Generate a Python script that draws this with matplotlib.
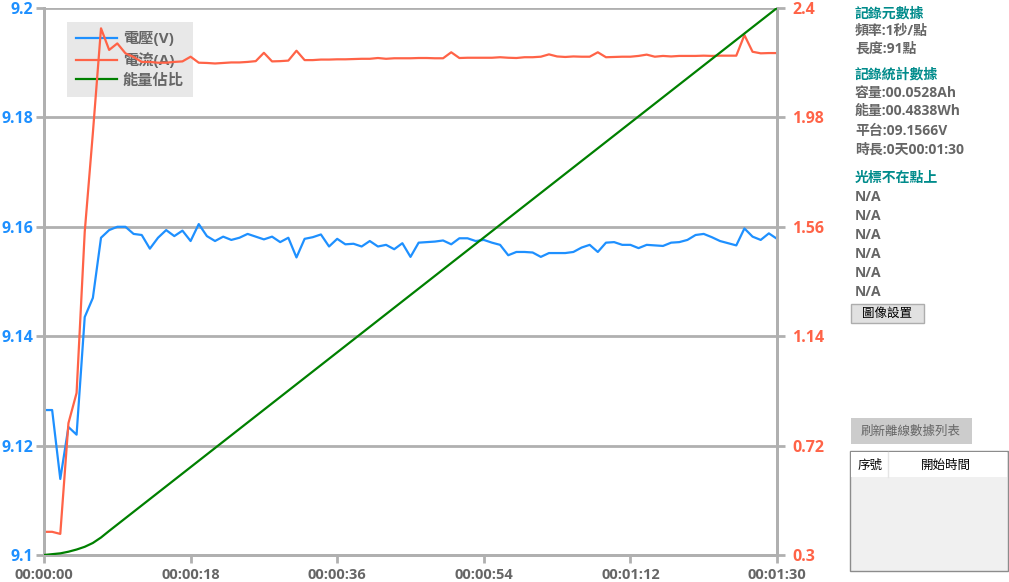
import numpy as np
import matplotlib
matplotlib.use("Agg")
from matplotlib import pyplot as plt
from matplotlib.patches import Rectangle

plt.rcParams["font.family"] = ["Open Sans", "Noto Sans CJK TC", "DejaVu Sans"]

# one sample per second, 91 samples
seconds = list(range(91))
voltage = [9.1265, 9.1265, 9.1139, 9.1234, 9.1220, 9.1435, 9.1470, 9.1580, 9.1594, 9.1600,
           9.1600, 9.1587, 9.1585, 9.1560, 9.1580, 9.1594, 9.1583, 9.1593, 9.1574, 9.1605,
           9.1583, 9.1574, 9.1582, 9.1576, 9.1580, 9.1587, 9.1582, 9.1577, 9.1582, 9.1572,
           9.1580, 9.1544, 9.1578, 9.1581, 9.1586, 9.1564, 9.1578, 9.1568, 9.1569, 9.1564,
           9.1574, 9.1564, 9.1567, 9.1559, 9.1570, 9.1545, 9.1571, 9.1572, 9.1573, 9.1575,
           9.1568, 9.1579, 9.1579, 9.1574, 9.1576, 9.1571, 9.1567, 9.1548, 9.1554, 9.1554,
           9.1553, 9.1545, 9.1552, 9.1552, 9.1552, 9.1554, 9.1562, 9.1567, 9.1554, 9.1571,
           9.1572, 9.1567, 9.1567, 9.1561, 9.1567, 9.1566, 9.1565, 9.1571, 9.1572, 9.1576,
           9.1585, 9.1587, 9.1581, 9.1574, 9.1570, 9.1566, 9.1597, 9.1582, 9.1576, 9.1588,
           9.1578]
current = [0.389, 0.389, 0.381, 0.806, 0.922, 1.540, 1.920, 2.322, 2.239, 2.264,
           2.226, 2.212, 2.193, 2.193, 2.190, 2.190, 2.193, 2.195, 2.213, 2.190,
           2.189, 2.187, 2.189, 2.191, 2.191, 2.193, 2.196, 2.228, 2.195, 2.196,
           2.198, 2.236, 2.200, 2.200, 2.202, 2.202, 2.203, 2.203, 2.204, 2.205,
           2.205, 2.208, 2.205, 2.207, 2.207, 2.207, 2.208, 2.208, 2.207, 2.207,
           2.230, 2.208, 2.209, 2.209, 2.209, 2.209, 2.211, 2.209, 2.208, 2.211,
           2.211, 2.213, 2.222, 2.214, 2.212, 2.214, 2.213, 2.213, 2.230, 2.211,
           2.212, 2.213, 2.213, 2.216, 2.221, 2.213, 2.216, 2.214, 2.216, 2.216,
           2.216, 2.217, 2.216, 2.217, 2.217, 2.217, 2.296, 2.232, 2.226, 2.227,
           2.227]
# energy share (0..1), read at the bends of the green curve
energy_t = [0, 2, 3, 4, 5, 6, 7, 8, 90]
energy_share = [0.0, 0.003, 0.006, 0.010, 0.015, 0.022, 0.032, 0.044, 1.0]

volt_ticks = [9.1, 9.12, 9.14, 9.16, 9.18, 9.2]
volt_labels = ["9.1", "9.12", "9.14", "9.16", "9.18", "9.2"]
amp_ticks = [0.3, 0.72, 1.14, 1.56, 1.98, 2.4]
amp_labels = ["0.3", "0.72", "1.14", "1.56", "1.98", "2.4"]
time_ticks = [0, 18, 36, 54, 72, 90]

side_lines = [
    ("記錄元數據", "head", 14), ("頻率:1秒/點", "text", 31), ("長度:91點", "text", 49),
    ("記錄統計數據", "head", 75), ("容量:00.0528Ah", "text", 93), ("能量:00.4838Wh", "text", 111),
    ("平台:09.1566V", "text", 131), ("時長:0天00:01:30", "text", 150),
    ("光標不在點上", "head", 178), ("N/A", "text", 197), ("N/A", "text", 216), ("N/A", "text", 235),
    ("N/A", "text", 254), ("N/A", "text", 273), ("N/A", "text", 292),
]

W, H = 1009, 582
BLUE = "#1e90ff"
RED = "#ff6347"
GREEN = "#008000"
GRID = "#b0b0b0"
TXT = "#666666"
TEAL = "#008b8b"


def hms(s):
    s = int(round(s))
    return "{:02d}:{:02d}:{:02d}".format(s // 3600, (s // 60) % 60, s % 60)


def px(x, y):
    return x / W, 1 - y / H


fig = plt.figure(figsize=(W / 100, H / 100), dpi=100)
ax = fig.add_axes([44 / W, 27 / H, (777 - 44) / W, (555 - 8) / H])
ax2 = ax.twinx()
ax3 = ax.twinx()

lv, = ax.plot(seconds, voltage, color=BLUE, lw=1.6, label="電壓(V)")
la, = ax2.plot(seconds, current, color=RED, lw=1.6, label="電流(A)")
le, = ax3.plot(energy_t, energy_share, color=GREEN, lw=1.6, label="能量佔比")

ax.set_xlim(0, 90)
ax.set_ylim(9.1, 9.2)
ax2.set_ylim(0.3, 2.4)
ax3.set_ylim(0, 1)
ax3.axis("off")

ax.set_yticks(volt_ticks)
ax.set_yticklabels(volt_labels)
ax2.set_yticks(amp_ticks)
ax2.set_yticklabels(amp_labels)
ax.set_xticks(time_ticks)
ax.set_xticklabels([hms(t) for t in time_ticks])

ax.yaxis.grid(True, color=GRID, lw=2)
ax.set_axisbelow(True)
for a in (ax, ax2):
    for side in ("left", "right", "bottom"):
        a.spines[side].set_color(GRID)
        a.spines[side].set_linewidth(2)
    a.spines["top"].set_visible(False)
    a.tick_params(axis="both", color=GRID, width=2, length=6)
ax.tick_params(axis="y", labelcolor=BLUE, labelsize=11.5, pad=2)
ax2.tick_params(axis="y", labelcolor=RED, labelsize=11.5, pad=5)
ax.tick_params(axis="x", labelcolor=TXT, labelsize=10.5, pad=3.5)
for lab in ax.get_yticklabels() + ax2.get_yticklabels() + ax.get_xticklabels():
    lab.set_fontweight("bold")

leg = ax.legend(handles=[lv, la, le], loc="upper left", bbox_to_anchor=(23 / 733, 1 - 14 / 547),
                borderaxespad=0, frameon=True, fancybox=False, framealpha=1, facecolor="#e8e8e8",
                edgecolor="none", handlelength=2.7, borderpad=0.6, labelspacing=0.38,
                handletextpad=0.35, prop={"size": 11, "weight": "bold"})
for t in leg.get_texts():
    t.set_color(TXT)
leg.set_zorder(0)

# side panel
for text, kind, y in side_lines:
    fig.text(*px(855, y), text, color=TEAL if kind == "head" else TXT, fontsize=10,
             fontweight="bold", va="center", ha="left")

fig.patches.append(Rectangle(px(851, 323), 73 / W, 19 / H, transform=fig.transFigure,
                             facecolor="#e1e1e1", edgecolor="#adadad", lw=1))
fig.text(*px(887, 313), "圖像設置", color="black", fontsize=9, va="center", ha="center")

fig.patches.append(Rectangle(px(851, 444), 121 / W, 26 / H, transform=fig.transFigure,
                             facecolor="#cccccc", edgecolor="none"))
fig.text(*px(911, 431), "刷新離線數據列表", color=TXT, fontsize=9, va="center", ha="center")

fig.patches.append(Rectangle(px(850, 571), 158 / W, 120 / H, transform=fig.transFigure,
                             facecolor="#f0f0f0", edgecolor="#8c8c8c", lw=1))
fig.patches.append(Rectangle(px(851, 477), 156 / W, 25 / H, transform=fig.transFigure,
                             facecolor="white", edgecolor="none"))
fig.lines.append(plt.Line2D([888 / W, 888 / W], [1 - 452 / H, 1 - 477 / H], transform=fig.transFigure,
                            color="#e5e5e5", lw=1))
fig.text(*px(870, 465), "序號", color="black", fontsize=9, va="center", ha="center")
fig.text(*px(946, 465), "開始時間", color="black", fontsize=9, va="center", ha="center")

fig.savefig("out.png", dpi=100)
